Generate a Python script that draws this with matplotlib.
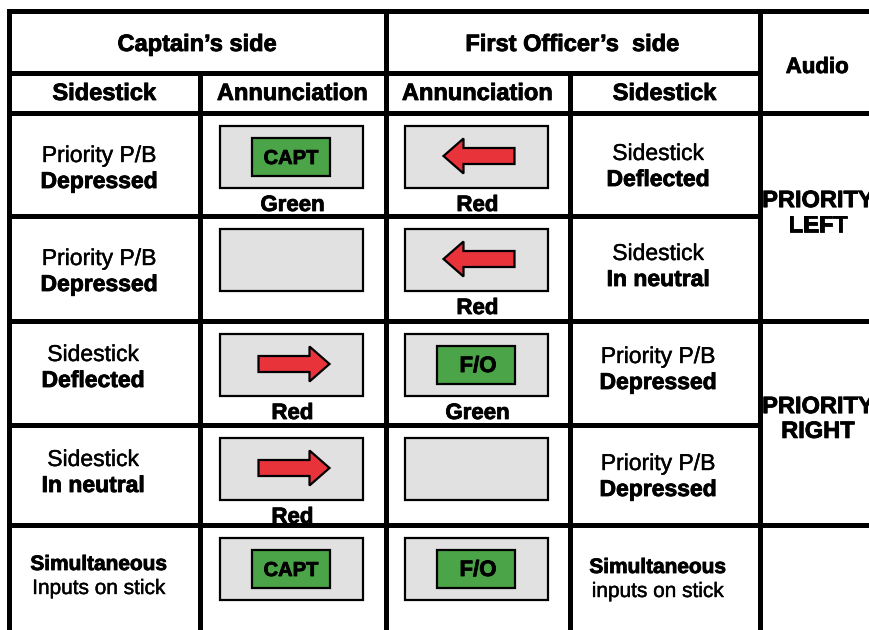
import matplotlib.pyplot as plt
import matplotlib.patheffects as pe
from matplotlib.patches import Rectangle, Polygon

plt.rcParams['font.family'] = ['Liberation Sans', 'DejaVu Sans']

# table content
group_headers = ["Captain\u2019s side", "First Officer\u2019s  side"]
audio_header = "Audio"
sub_headers = ["Sidestick", "Annunciation", "Annunciation", "Sidestick"]

capt_sidestick = [("Priority P/B", "Depressed"), ("Priority P/B", "Depressed"),
                  ("Sidestick", "Deflected"), ("Sidestick", "In neutral"),
                  ("Simultaneous", "Inputs on stick")]
capt_annunc = ["CAPT", "", "right", "right", "CAPT"]
capt_colour = ["Green", "", "Red", "Red", ""]

fo_annunc = ["left", "left", "F/O", "", "F/O"]
fo_colour = ["Red", "Red", "Green", "", ""]
fo_sidestick = [("Sidestick", "Deflected"), ("Sidestick", "In neutral"),
                ("Priority P/B", "Depressed"), ("Priority P/B", "Depressed"),
                ("Simultaneous", "inputs on stick")]

audio = ["PRIORITY\nLEFT", "PRIORITY\nRIGHT", ""]

# layout (pixels, y down)
W, H = 869, 630
col_x = [9, 199.5, 385.5, 569.5, 759.5, 875]
top, hdr1, hdr2 = 11, 73, 113
row_y = [113, 216, 321, 425, 525, 640]
emph_first = [False, False, False, False, True]

GRAY = "#e1e1e1"
RED = "#e8333a"
GREEN = "#4ba548"
LW = 3.6
HEAVY = [pe.withStroke(linewidth=0.6, foreground="black")]
LIGHT = [pe.withStroke(linewidth=0.3, foreground="black")]

fig = plt.figure(figsize=(W / 100, H / 100), dpi=100)
ax = fig.add_axes([0, 0, 1, 1])
ax.set_xlim(0, W)
ax.set_ylim(H, 0)
ax.axis("off")


def label(x, y, s, size, bold=True, **kw):
    kw.setdefault("va", "baseline")
    ax.text(x, y, s, ha="center", fontsize=size,
            fontweight="bold" if bold else "normal",
            path_effects=HEAVY if bold else LIGHT, **kw)


def hline(y, x0, x1):
    ax.plot([x0, x1], [y, y], color="black", lw=LW, solid_capstyle="projecting")


def vline(x, y0, y1):
    ax.plot([x, x], [y0, y1], color="black", lw=LW, solid_capstyle="projecting")


# grid lines
for y in [top, hdr2, row_y[2], row_y[4]]:
    hline(y, col_x[0], col_x[-1])
for y in [hdr1, row_y[1], row_y[3]]:
    hline(y, col_x[0], col_x[4])
for x in [col_x[0], col_x[2], col_x[4]]:
    vline(x, top, H + 10)
for x in [col_x[1], col_x[3]]:
    vline(x, hdr1, H + 10)

# headers
for i, txt in enumerate(group_headers):
    cx = (col_x[2 * i] + col_x[2 * i + 2]) / 2
    label(cx, 51, txt, 17)
label((col_x[4] + col_x[5]) / 2, 73, audio_header, 16)
for i, txt in enumerate(sub_headers):
    cx = (col_x[i] + col_x[i + 1]) / 2
    label(cx, 100, txt, 17)


def two_lines(x, y, lines, bold_first, size):
    gap = 24 if bold_first else 26
    label(x, y + 8, lines[0], size, bold=bold_first)
    label(x, y + gap + 8, lines[1], size, bold=not bold_first)


capt_x = [99, 99, 93, 93, 99]
capt_y = [154, 257, 353, 458, 562]
fo_y = [152, 252, 355, 462, 565]
for r in range(5):
    size = 15 if emph_first[r] else 16.5
    two_lines(capt_x[r], capt_y[r], capt_sidestick[r], emph_first[r], size)
    two_lines(658, fo_y[r], fo_sidestick[r], emph_first[r], size)


def arrow(cx, cy, direction):
    s = 1 if direction == "right" else -1
    pts = [(cx - s * 35.5, cy - 8), (cx + s * 15.5, cy - 8), (cx + s * 15.5, cy - 17.5),
           (cx + s * 35.5, cy), (cx + s * 15.5, cy + 17.5), (cx + s * 15.5, cy + 8),
           (cx - s * 35.5, cy + 8)]
    ax.add_patch(Polygon(pts, closed=True, facecolor=RED, edgecolor="black", lw=1.6,
                         joinstyle="miter"))


def annunciator(col, r, kind, colour_name):
    cx = (col_x[col] + col_x[col + 1]) / 2 - 1.5
    y0 = row_y[r] + 13
    ax.add_patch(Rectangle((cx - 71.5, y0), 143, 62, facecolor=GRAY, edgecolor="black", lw=1.6))
    cy = y0 + 31
    if kind in ("left", "right"):
        arrow(cx + 3, cy - 1, kind)
    elif kind:
        ax.add_patch(Rectangle((cx - 39, cy - 19), 78, 38, facecolor=GREEN,
                               edgecolor="black", lw=1.6))
        fs = 14.5 if kind == "CAPT" else 16
        label(cx + (0 if kind == "CAPT" else 2), cy + 7, kind, fs)
    if colour_name:
        label(cx + 1.5, row_y[r] + 98, colour_name, 16)


for r in range(5):
    annunciator(1, r, capt_annunc[r], capt_colour[r])
    annunciator(2, r, fo_annunc[r], fo_colour[r])

# audio column (merged cells)
for i, txt in enumerate(audio):
    if txt:
        cy = (row_y[2 * i] + row_y[2 * i + 2]) / 2
        label(818, cy - 4, txt, 17, va="center", linespacing=1.1)

fig.savefig("out.png", dpi=100)
